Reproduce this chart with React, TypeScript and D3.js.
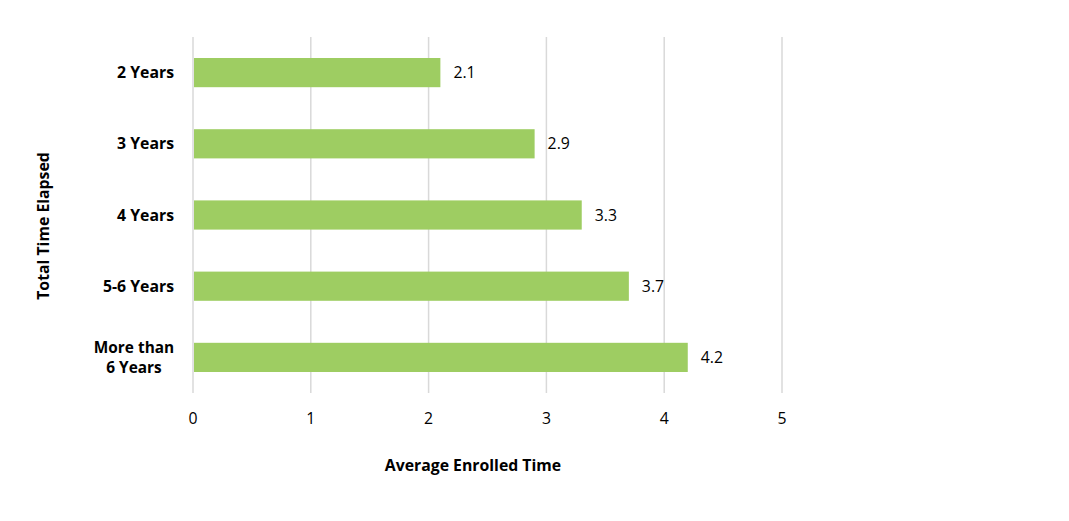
import React from "react";
import * as d3 from "d3";

const categories = ["2 Years", "3 Years", "4 Years", "5-6 Years", "More than 6 Years"];
const values = [2.1, 2.9, 3.3, 3.7, 4.2];
const xTicks = [0, 1, 2, 3, 4, 5];
const labelLines: Record<string, string[]> = {
  "More than 6 Years": ["More than", "6 Years"],
};

const W = 1069;
const H = 521;
const FONT = "'Open Sans', sans-serif";
const FS = 15.8;

export default function App() {
  const x = d3.scaleLinear().domain([0, 5]).range([193, 782]);
  const y = d3.scaleBand().domain(categories).range([37, 393]).paddingInner(0.59).paddingOuter(0.295);
  return (
    <svg width={W} height={H} style={{ position: "absolute", left: 0, top: 0 }} fontFamily={FONT}>
      <rect width={W} height={H} fill="#fff" />
      {xTicks.map((t) => (
        <g key={t}>
          <line x1={x(t)} x2={x(t)} y1={37} y2={393} stroke="#D9D9D9" strokeWidth={1.5} />
          <text x={x(t)} y={424} textAnchor="middle" fontSize={FS} fill="#000">{t}</text>
        </g>
      ))}
      {categories.map((c, i) => {
        const yy = y(c)!;
        const bw = y.bandwidth();
        const lines = labelLines[c] || [c];
        const cy = yy + bw / 2;
        const multi = lines.length > 1;
        return (
          <g key={c}>
            <rect x={x(0) + 1} y={yy} width={x(values[i]) - x(0) - 1} height={bw} fill="#9ECD62" />
            <text x={x(values[i]) + 13} y={cy + 5.5} fontSize={FS} fill="#000">{values[i]}</text>
            {lines.map((l, j) => (
              <text key={j} x={multi ? 134 : 174} y={cy + 5.5 + (j - (lines.length - 1) / 2) * 20.5} textAnchor={multi ? "middle" : "end"} fontSize={multi ? 15.4 : FS} fontWeight="bold" fill="#000">{l}</text>
            ))}
          </g>
        );
      })}
      <text x={473} y={471} textAnchor="middle" fontSize={FS} fontWeight="bold" fill="#000">Average Enrolled Time</text>
      <text transform={`translate(49,226) rotate(-90)`} textAnchor="middle" fontSize={FS} fontWeight="bold" fill="#000">Total Time Elapsed</text>
    </svg>
  );
}
